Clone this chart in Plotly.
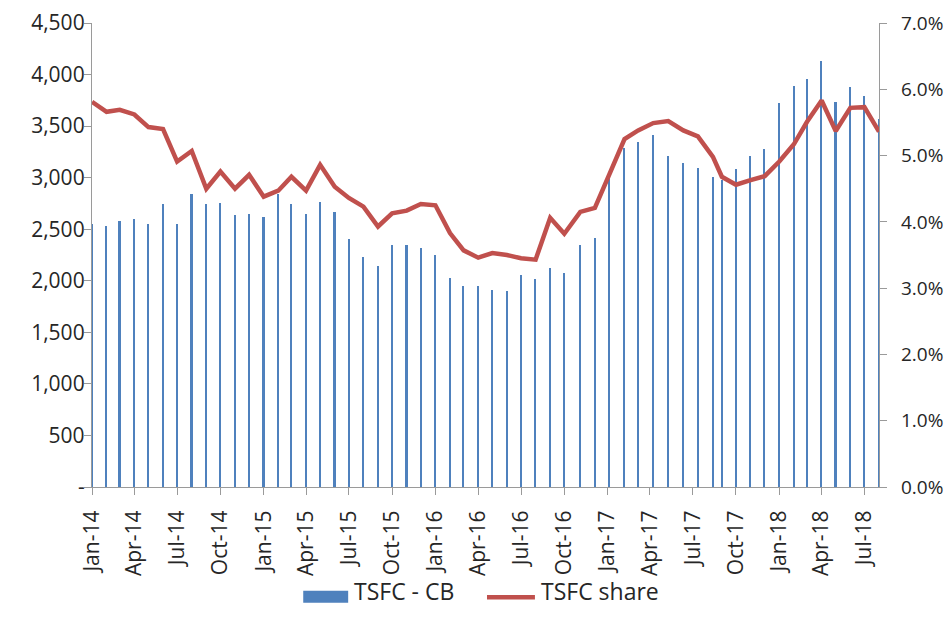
import plotly.graph_objects as go

dates = (
    [f"{y}-{m:02d}-01" for y in (2014, 2015) for m in range(1, 13)]
    + [f"2016-{m:02d}-01" for m in range(1, 11)]
    + ["2016-11-04", "2016-12-05", "2017-01-05", "2017-02-06", "2017-03-07",
       "2017-04-08", "2017-05-10", "2017-06-11", "2017-07-12", "2017-08-13"]
    + [f"2017-{m:02d}-01" for m in range(9, 13)]
    + [f"2018-{m:02d}-01" for m in range(1, 9)]
)

tsfc_cb = [
    2549, 2527, 2582, 2604, 2549, 2749, 2549, 2846, 2740, 2759, 2640, 2650,
    2614, 2839, 2740, 2650, 2768, 2669, 2404, 2228, 2141, 2350, 2350, 2318,
    2254, 2031, 1945, 1945, 1909, 1899, 2054, 2022, 2121, 2073, 2350, 2418,
    2994, 3290, 3347, 3412, 3213, 3145, 3090, 3003, 2978, 3081, 3213, 3277,
    3722, 3889, 3953, 4127, 3731, 3876, 3789, 3567,
]

tsfc_share = [
    5.81, 5.66, 5.69, 5.62, 5.43, 5.40, 4.91, 5.07, 4.50, 4.76, 4.50, 4.71,
    4.38, 4.47, 4.68, 4.47, 4.86, 4.53, 4.36, 4.23, 3.93, 4.13, 4.17, 4.27,
    4.25, 3.83, 3.57, 3.46, 3.53, 3.50, 3.45, 3.43, 4.06, 3.82, 4.15, 4.21,
    4.72, 5.25, 5.38, 5.49, 5.52, 5.38, 5.29, 4.98, 4.68, 4.56, 4.63, 4.69,
    4.91, 5.17, 5.51, 5.83, 5.37, 5.72, 5.73, 5.36,
]

left_ticks = [0, 500, 1000, 1500, 2000, 2500, 3000, 3500, 4000, 4500]
left_labels = ["-", "500", "1,000", "1,500", "2,000", "2,500", "3,000", "3,500", "4,000", "4,500"]
right_ticks = [0, 1, 2, 3, 4, 5, 6, 7]
right_labels = ["0.0%", "1.0%", "2.0%", "3.0%", "4.0%", "5.0%", "6.0%", "7.0%"]

series_names = ["TSFC - CB", "TSFC share"]
BLUE = "#4F81BD"
RED = "#C0504D"

FONT = "Open Sans"
TXT = "#262626"
AX = "#9A9A9A"
DAY_MS = 86400000

# figure sized to the visible page area (page body has an 8px default margin)
W, H = 936, 603
L, R, T, B = 83.5, 64.5, 15, 124.3
PH = H - T - B
PW = W - L - R


def px_x(fx):
    return (fx - L) / PW


def px_y(fy):
    return (H - B - fy) / PH


fig = go.Figure()
fig.add_trace(go.Bar(
    x=dates, y=tsfc_cb, name=series_names[0],
    marker=dict(color=BLUE, line=dict(width=0)),
    width=3.4 * DAY_MS, showlegend=False,
))
fig.add_trace(go.Scatter(
    x=dates, y=tsfc_share, name=series_names[1], yaxis="y2",
    mode="lines", line=dict(color=RED, width=4.5), showlegend=False,
))

# legend (drawn to match the original swatch sizes)
fig.add_shape(type="rect", xref="paper", yref="paper",
              x0=px_x(295), x1=px_x(340), y0=px_y(594.5), y1=px_y(582.5),
              fillcolor=BLUE, line=dict(width=0))
fig.add_shape(type="line", xref="paper", yref="paper",
              x0=px_x(479), x1=px_x(527), y0=px_y(589), y1=px_y(589),
              line=dict(color=RED, width=4.5))
fig.add_annotation(text=series_names[0], xref="paper", yref="paper",
                   x=px_x(344), y=px_y(601), xanchor="left", yanchor="bottom",
                   showarrow=False, font=dict(family=FONT, size=23, color=TXT))
fig.add_annotation(text=series_names[1], xref="paper", yref="paper",
                   x=px_x(531), y=px_y(601), xanchor="left", yanchor="bottom",
                   showarrow=False, font=dict(family=FONT, size=23, color=TXT))

axis_common = dict(
    showgrid=False, zeroline=False,
    showline=True, linecolor=AX, linewidth=1.3,
    ticks="outside", ticklen=7, tickcolor=AX, tickwidth=1.3,
    ticklabeloverflow="allow",
)

fig.update_layout(
    width=W, height=H,
    margin=dict(l=L, r=R, t=T, b=B, autoexpand=False),
    paper_bgcolor="white", plot_bgcolor="white",
    font=dict(family=FONT, size=21, color=TXT),
    showlegend=False,
    xaxis=dict(
        type="date", range=["2014-01-01", "2018-08-01"],
        tick0="2014-01-01", dtick="M3", tickformat="%b-%y", tickangle=-90,
        ticklabelstandoff=7, tickfont=dict(family=FONT, size=21, color=TXT),
        **axis_common,
    ),
    yaxis=dict(
        range=[0, 4500], tickmode="array", tickvals=left_ticks, ticktext=left_labels,
        ticklabelstandoff=-5, tickfont=dict(family=FONT, size=21, color=TXT),
        **axis_common,
    ),
    yaxis2=dict(
        range=[0, 7], tickmode="array", tickvals=right_ticks, ticktext=right_labels,
        overlaying="y", side="right", ticklabelstandoff=10,
        tickfont=dict(family=FONT, size=19, color=TXT),
        **axis_common,
    ),
    bargap=0,
)

fig.write_html("out.html")
